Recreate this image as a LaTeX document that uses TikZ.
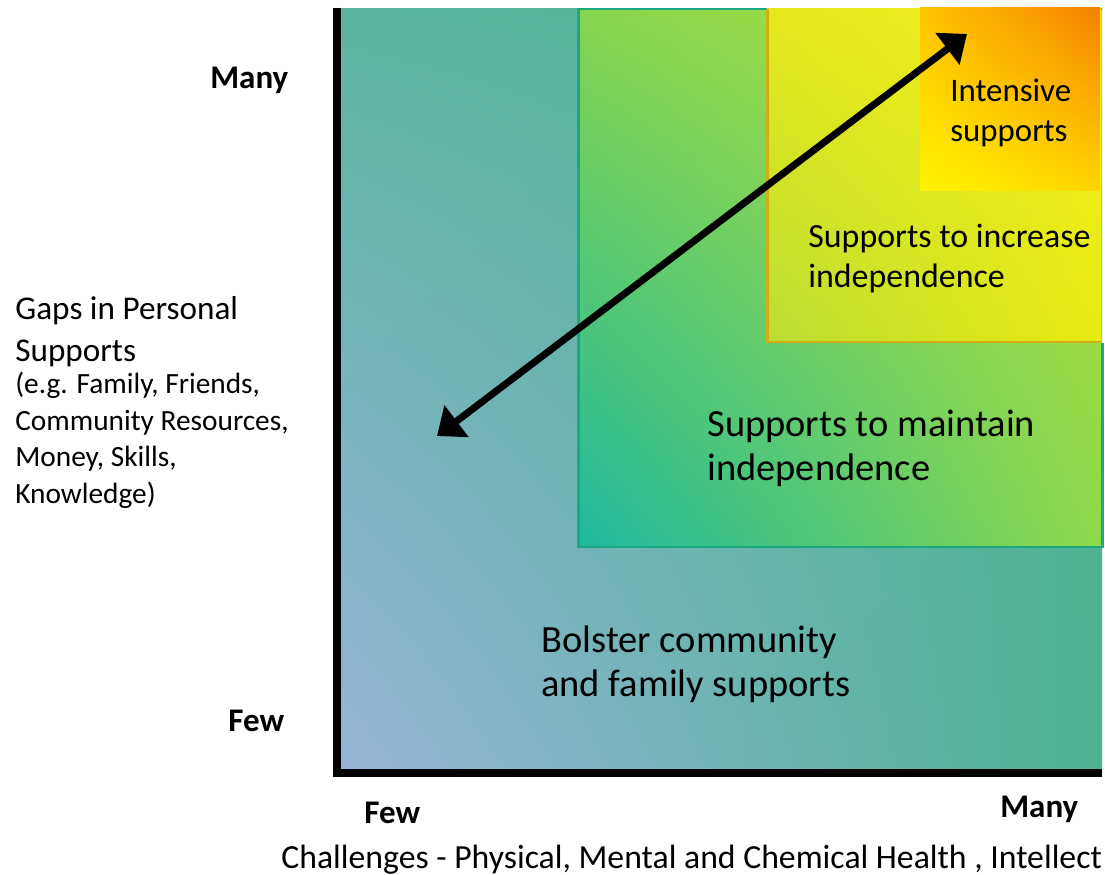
\documentclass[tikz,border=0pt]{standalone}
\usepackage{fontspec}
\setmainfont{Carlito}
\usepackage{tikz}
\usetikzlibrary{arrows.meta, shadings}

\definecolor{bolsterLL}{HTML}{96B4D8}
\definecolor{bolsterUL}{HTML}{5BB59F}
\definecolor{bolsterUR}{HTML}{52B493}
\definecolor{bolsterLR}{HTML}{4DB392}
\definecolor{maintainLL}{HTML}{1DB8A0}
\definecolor{maintainUL}{HTML}{86D54E}
\definecolor{maintainUR}{HTML}{B5E338}
\definecolor{maintainLR}{HTML}{8ED84A}
\definecolor{increaseLL}{HTML}{BBDE36}
\definecolor{increaseUL}{HTML}{E4E81A}
\definecolor{increaseUR}{HTML}{F2F01E}
\definecolor{increaseLR}{HTML}{E8EA10}
\definecolor{intensiveLL}{HTML}{FFF400}
\definecolor{intensiveUL}{HTML}{FFC400}
\definecolor{intensiveUR}{HTML}{F58200}
\definecolor{intensiveLR}{HTML}{FFD400}
\definecolor{maintainedge}{HTML}{1EA882}
\definecolor{increaseedge}{HTML}{D2AE14}

\tikzset{
  axisline/.style={line width=4pt, black},
  bigarrow/.style={line width=4pt, black, {Triangle[length=14pt,width=22pt]}-{Triangle[length=14pt,width=22pt]}},
  zonetext/.style={inner sep=0pt, anchor=base west, align=left, font={\fontsize{21.9}{24.9}\selectfont}},
  smalltext/.style={inner sep=0pt, anchor=base west, align=left, font={\fontsize{18.7}{22.7}\selectfont}},
  notetext/.style={inner sep=0pt, anchor=base west, align=left, font={\fontsize{16.7}{20.7}\selectfont}},
  endtext/.style={inner sep=0pt, anchor=base west, font={\fontsize{18.8}{21}\selectfont\bfseries}}
}

\begin{document}
\begin{tikzpicture}[x=0.02cm, y=-0.02cm]
        \useasboundingbox (0,0) rectangle (1105,875);

        % zones, largest first
        \path[lower left=bolsterLL, upper left=bolsterUL, upper right=bolsterUR, lower right=bolsterLR]
          (340,9) rectangle (1102,772);
        \path[lower left=maintainLL, upper left=maintainUL, upper right=maintainUR, lower right=maintainLR]
          (578,9) rectangle (1102,547);
        \draw[maintainedge, line width=1.7pt] (1102,9) -- (578,9) -- (578,547) -- (1102,547) -- (1102,343);
        \path[lower left=increaseLL, upper left=increaseUL, upper right=increaseUR, lower right=increaseLR]
          (767,9) rectangle (1101,342);
        \draw[increaseedge, line width=1.7pt] (767,9) -- (767,342) -- (1101,342);
        \path[lower left=intensiveLL, upper left=intensiveUL, upper right=intensiveUR, lower right=intensiveLR]
          (920,8) rectangle (1100,190);

        % axes
        \coordinate (top) at (337,8);
        \coordinate (origin) at (337,773);
        \coordinate (right) at (1102,773);
        \draw[axisline] (top) -- (origin) -- (right);

        % arrow
        \coordinate (fewend) at (437,436);
        \coordinate (manyend) at (967,34);
        \draw[bigarrow] (fewend) -- (manyend);

        % zone labels (base = last line)
        \node[smalltext] (intensive) at (950,141) {Intensive\\supports};
        \node[smalltext, font={\fontsize{19.3}{22.7}\selectfont}] (increase) at (808,287) {Supports to increase\\independence};
        \node[zonetext] (maintain) at (707,480) {Supports to maintain\\independence};
        \node[zonetext] (bolster) at (541,696) {Bolster community\\and family supports};

        % axis labels
        \node[smalltext, font={\fontsize{18.9}{23.8}\selectfont}] (gaps) at (15,361) {Gaps in Personal\\Supports};
        \node[notetext] (examples) at (15,503) {(e.g. Family, Friends,\\Community Resources,\\Money, Skills,\\Knowledge)};
        \node[endtext] (ymany) at (210,89) {Many};
        \node[endtext] (yfew) at (228,731) {Few};
        \node[endtext] (xfew) at (364,823) {Few};
        \node[endtext] (xmany) at (1000,817) {Many};
        \node[notetext, font={\fontsize{19.2}{22}\selectfont}] (challenges) at (281,868) {Challenges - Physical, Mental and Chemical Health , Intellect};
\end{tikzpicture}
\end{document}
